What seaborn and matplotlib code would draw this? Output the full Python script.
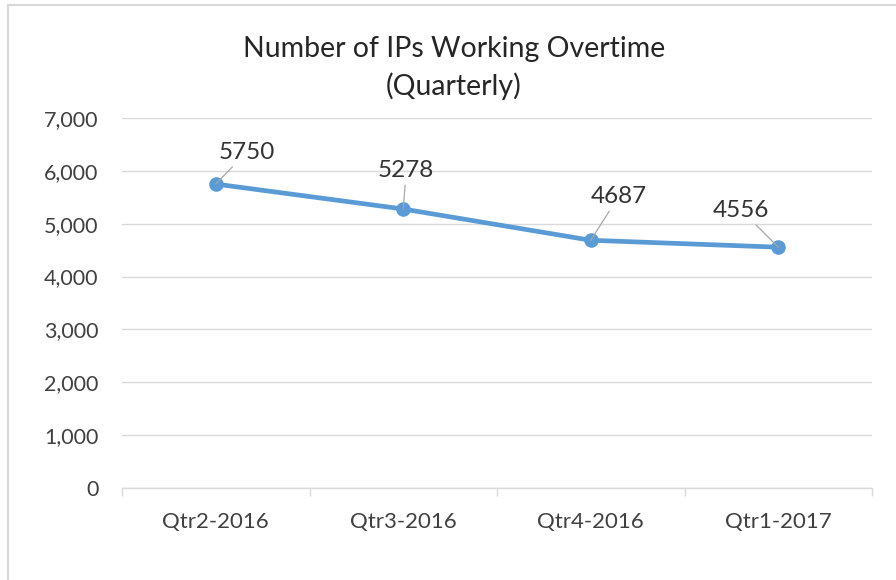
import numpy as np
import matplotlib.pyplot as plt
import seaborn as sns
from matplotlib.patches import Rectangle
from matplotlib.ticker import FuncFormatter, FixedLocator

quarters = ['Qtr2-2016', 'Qtr3-2016', 'Qtr4-2016', 'Qtr1-2017']
ips = [5750, 5278, 4687, 4556]
# label offsets from each point, in pixels (dx, dy)
label_offsets = [(31, 32), (3, 39), (28, 44), (-37, 37)]

sns.set_theme(style="white")
plt.rcParams['font.family'] = ['Lato', 'DejaVu Sans']

fig = plt.figure(figsize=(8.96, 5.8), dpi=100)
ax = fig.add_axes([122/896, 92/580, 750/896, 370/580])

pos = np.arange(len(quarters))
sns.lineplot(x=pos, y=ips, ax=ax, color='#5B9BD5', linewidth=3.4,
             marker='o', markersize=10.5, markeredgewidth=0)

ax.set_xlim(-0.5, 3.5)
ax.set_ylim(0, 7000)
ax.set_yticks(range(0, 7001, 1000))
ax.yaxis.set_major_formatter(FuncFormatter(lambda v, p: f'{int(v):,}'))
ax.set_xticks(pos)
ax.set_xticklabels(quarters)
ax.xaxis.set_minor_locator(FixedLocator(np.arange(-0.5, 3.6, 1)))
ax.tick_params(axis='x', which='major', length=0, pad=17, labelsize=16, labelcolor='#404040')
ax.tick_params(axis='x', which='minor', bottom=True, length=6, width=1, color='#D9D9D9')
ax.tick_params(axis='y', length=0, pad=17, labelsize=15.5, labelcolor='#404040')
ax.grid(axis='y', color='#D9D9D9', linewidth=1)
ax.set_axisbelow(True)
for s in ['top', 'right', 'left']:
    ax.spines[s].set_visible(False)
ax.spines['bottom'].set_color('#D9D9D9')
ax.spines['bottom'].set_linewidth(1)

for x, y, (dx, dy) in zip(pos, ips, label_offsets):
    ax.annotate(str(y), xy=(x, y), xytext=(dx, dy), textcoords='offset pixels',
                ha='center', va='center', fontsize=17.5, color='#333333',
                arrowprops=dict(arrowstyle='-', color='#A6A6A6', lw=0.9,
                                shrinkA=1, shrinkB=0))

fig.text(454/896, 1 - 68/580, 'Number of IPs Working Overtime\n(Quarterly)',
         ha='center', va='center', fontsize=20.5, color='#262626', linespacing=1.45)

fig.patches.append(Rectangle((8/896, -0.05), 1.0, 1 - 5/580 + 0.05,
                             transform=fig.transFigure, fill=False,
                             edgecolor='#D9D9D9', linewidth=1.5))

fig.savefig('out.png', dpi=100, facecolor='white')
